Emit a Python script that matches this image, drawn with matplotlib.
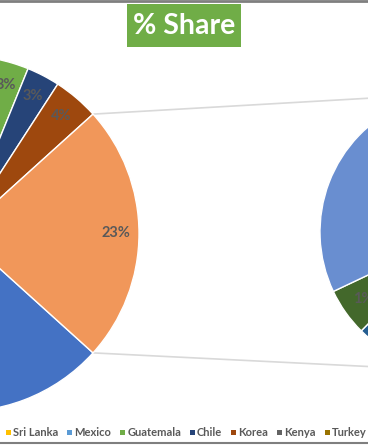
import numpy as np
import matplotlib.pyplot as plt
from matplotlib.lines import Line2D
from matplotlib.patches import Rectangle

plt.rcParams['font.family'] = ['Lato', 'DejaVu Sans']

# main pie, share in % (first three names are off the visible area)
main_names = ['India', 'China', 'Vietnam', 'Sri Lanka', 'Mexico', 'Guatemala', 'Chile', 'Korea']
main_share = [30.0, 18.0, 8.0, 6.0, 4.45, 3.0, 3.0, 4.15]
main_colors = ['#4472C4', '#ED7D31', '#A5A5A5', '#FFC000', '#5B9BD5', '#70AD47', '#264478', '#9E480E']

# second pie = breakdown of the "Other" slice
sub_names = ['Kenya', 'Turkey', 'Peru', 'Brazil', 'Egypt']
sub_share = [4.0, 3.3, 2.8, 1.3, 12.0]
sub_colors = ['#636363', '#997300', '#255E91', '#43682B', '#698ED0']
other_color = '#F1975A'

W, H = 368, 445
fig = plt.figure(figsize=(W / 100, H / 100), dpi=100)
ax = fig.add_axes([0, 0, 1, 1])

other = sum(sub_share)
total = sum(main_share) + other
label_kw = dict(color='#595959', fontsize=10.5, fontweight='bold')
edge = dict(edgecolor='white', linewidth=1)

# left pie, "Other" slice centred on 3 o'clock
c1, r1 = (-39, 211.5), 178
w1, _, t1 = ax.pie(main_share + [other], colors=main_colors + [other_color],
                   center=c1, radius=r1, counterclock=False,
                   startangle=360 - other / total * 180,
                   autopct='%.0f%%', pctdistance=0.87,
                   textprops=label_kw, wedgeprops=edge, frame=True)

# right pie
c2, r2 = (459, 213), 139
_, _, t2 = ax.pie(sub_share, colors=sub_colors, center=c2, radius=r2,
                  counterclock=False, startangle=20.7,
                  autopct=lambda p: f'{p * other / total:.0f}%', pctdistance=0.84,
                  textprops=label_kw, wedgeprops=edge, frame=True)

# connector lines between the two pies
wo = w1[-1]
for ang, ys in ((wo.theta2, 1), (wo.theta1, -1)):
    x0 = c1[0] + r1 * np.cos(np.radians(ang))
    y0 = c1[1] + r1 * np.sin(np.radians(ang))
    ax.plot([x0, c2[0]], [y0, c2[1] + ys * r2], color='#D9D9D9', lw=1.2, zorder=0)

ax.set_xlim(0, W)
ax.set_ylim(0, H)
ax.set_aspect('equal')
ax.axis('off')

# title box
ax.add_patch(Rectangle((127, 398), 114, 43, facecolor='#70AD47', edgecolor='none', zorder=3))
ax.text(184, 419, '% Share', color='white', fontsize=20.5, fontweight='bold',
        ha='center', va='center', zorder=4)

# legend row (starts at Sri Lanka, earlier entries fall off the left edge)
renderer = fig.canvas.get_renderer()
x = 6
for name, col in list(zip(main_names, main_colors))[3:] + list(zip(sub_names, sub_colors)):
    if x > W:
        break
    ax.add_patch(Rectangle((x, 10.5), 5, 5, facecolor=col, edgecolor='none'))
    t = ax.text(x + 7, 13, name, color='#595959', fontsize=8, fontweight='bold',
                ha='left', va='center')
    x += 7 + t.get_window_extent(renderer).width + 9

# hide slice labels that land completely outside the picture
for t in list(t1) + list(t2):
    bb = t.get_window_extent(renderer)
    if bb.x1 < 0 or bb.x0 > W or bb.y1 < 0 or bb.y0 > H:
        t.set_visible(False)

# frame lines at top and bottom
fig.add_artist(Line2D([0, 1], [0.998, 0.998], color='#7F7F7F', lw=2))
fig.add_artist(Line2D([0, 1], [0.004, 0.004], color='#7F7F7F', lw=1.5))

fig.savefig('out.png', dpi=100)
